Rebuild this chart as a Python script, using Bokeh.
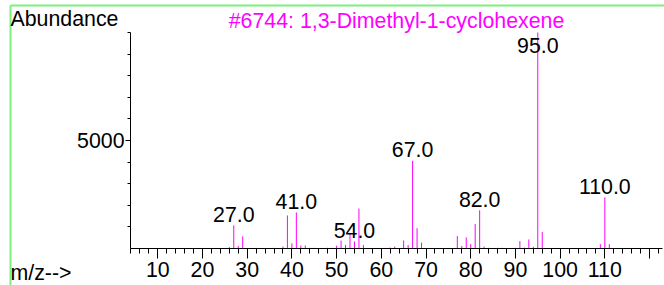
from bokeh.plotting import figure
from bokeh.models import Range1d, FixedTicker, ColumnDataSource
from bokeh.core.properties import value
from bokeh.embed import file_html
from bokeh.resources import INLINE

# ---- data ----
MZ = [26, 27, 28, 29, 32, 36, 38, 39, 40, 41, 42, 43, 44, 45, 48, 49, 50, 51, 52, 53,
      54, 55, 56, 62, 63, 65, 66, 67, 68, 69, 77, 78, 79, 80, 81, 82, 83, 84, 86, 87,
      90, 91, 92, 93, 94, 95, 96, 109, 110, 111]
ABUNDANCE = [70, 1070, 120, 560, 30, 30, 90, 1530, 240, 1670, 140, 140, 30, 30, 30, 30, 130, 365, 165, 680,
             325, 1850, 165, 40, 90, 370, 160, 4060, 940, 275, 575, 120, 515, 200, 1130, 1770, 90, 30, 30, 30,
             30, 345, 40, 420, 80, 9999, 760, 200, 2365, 200]
LABELED_PEAKS = [27, 41, 54, 67, 82, 95, 110]

TITLE = "#6744: 1,3-Dimethyl-1-cyclohexene"
Y_TITLE = "Abundance"
X_TITLE = "m/z-->"

X_MAJOR = [10, 20, 30, 40, 50, 60, 70, 80, 90, 100, 110, 120]
X_TICK_LABELS = ["10", "20", "30", "40", "50", "60", "70", "80", "90", "100", "110", ""]
X_MINOR = list(range(4, 124, 2))
Y_MAJOR = [5000]
Y_TICK_LABELS = ["5000"]
Y_MINOR = [1000, 2000, 3000, 4000, 6000, 7000, 8000, 9000, 10000]

# axis extents (data) and where the axes sit on the canvas (pixels)
X_MIN, X_MAX = 3.9, 122.9
Y_MIN, Y_MAX = 0, 10000
W, H = 664, 285
AX_LEFT, AX_RIGHT, AX_TOP, AX_BOTTOM = 130, 662, 32, 248
FRAME_LINE_LEFT, FRAME_LINE_TOP = 10.0, 5.0
TEXT_SHIFT = -7  # baseline correction for text glyphs

FONT = "Liberation Sans"
FS = "16pt"
MAGENTA = "#FF00FF"
GREEN = "#7CF07C"

# map the whole canvas so the axes fall at the right pixels
kx = (AX_RIGHT - AX_LEFT) / (X_MAX - X_MIN)
ky = (AX_BOTTOM - AX_TOP) / (Y_MAX - Y_MIN)
x_lo = X_MIN - AX_LEFT / kx
x_hi = X_MIN + (W - AX_LEFT) / kx
y_hi = Y_MIN + AX_BOTTOM / ky
y_lo = Y_MIN - (H - AX_BOTTOM) / ky

p = figure(width=W, height=H, x_range=Range1d(x_lo, x_hi), y_range=Range1d(y_lo, y_hi),
           output_backend="svg", toolbar_location=None, min_border=0)
p.outline_line_color = None
p.grid.visible = False
p.background_fill_color = "white"
p.border_fill_color = "white"

# green window frame (top and left edges)
gx = x_lo + FRAME_LINE_LEFT / kx
gy = y_hi - FRAME_LINE_TOP / ky
p.segment(x0=[gx, gx], y0=[gy, gy], x1=[x_hi, gx], y1=[gy, y_lo],
          line_color=GREEN, line_width=2)

# bars
src = ColumnDataSource(dict(mz=MZ, ab=ABUNDANCE))
p.segment(x0="mz", y0=0, x1="mz", y1="ab", source=src, line_color=MAGENTA, line_width=1)

# peak labels
cap = Y_MAX * 0.89
lx, ly, lt = [], [], []
for m, a in zip(MZ, ABUNDANCE):
    if m in LABELED_PEAKS:
        lx.append(m)
        ly.append(min(a, cap))
        lt.append(f"{m:.1f}")
lab = ColumnDataSource(dict(x=lx, y=ly, t=lt))
p.text(x="x", y="y", text="t", source=lab, text_align="center", text_baseline="alphabetic",
       y_offset=-4 + TEXT_SHIFT, text_font=value(FONT), text_font_size=FS, text_color="black")

# axes, pinned at the data origin
xa = p.xaxis[0]
xa.fixed_location = Y_MIN
xa.bounds = (X_MIN, X_MAX)
xa.ticker = FixedTicker(ticks=X_MAJOR, minor_ticks=X_MINOR)
xa.major_label_overrides = {t: s for t, s in zip(X_MAJOR, X_TICK_LABELS)}
xa.major_tick_out = 10
xa.major_tick_in = 0
xa.minor_tick_out = 5
xa.minor_tick_in = 0
xa.major_label_standoff = 3
xa.major_label_text_font = FONT
xa.major_label_text_font_size = FS
xa.major_label_text_color = "black"
xa.axis_line_color = "black"
xa.major_tick_line_color = "black"
xa.minor_tick_line_color = "black"

ya = p.yaxis[0]
ya.fixed_location = X_MIN
ya.bounds = (Y_MIN, Y_MAX)
ya.ticker = FixedTicker(ticks=Y_MAJOR, minor_ticks=Y_MINOR)
ya.major_label_overrides = {t: s for t, s in zip(Y_MAJOR, Y_TICK_LABELS)}
ya.major_tick_out = 5
ya.major_tick_in = 0
ya.minor_tick_out = 3
ya.minor_tick_in = 0
ya.major_label_standoff = 1
ya.major_label_text_font = FONT
ya.major_label_text_font_size = FS
ya.major_label_text_color = "black"
ya.axis_line_color = "black"
ya.major_tick_line_color = "black"
ya.minor_tick_line_color = "black"

# texts around the axes
p.text(x=[X_MIN], y=[Y_MAX], text=[Y_TITLE], x_offset=-120, y_offset=-7 + TEXT_SHIFT,
       text_align="left", text_baseline="alphabetic",
       text_font=value(FONT), text_font_size=FS, text_color="black")
p.text(x=[(X_MIN + X_MAX) / 2], y=[Y_MAX], text=[TITLE], y_offset=-5 + TEXT_SHIFT,
       text_align="center", text_baseline="alphabetic",
       text_font=value(FONT), text_font_size=FS, text_color=MAGENTA)
p.text(x=[X_MIN], y=[Y_MIN], text=[X_TITLE], x_offset=-120, y_offset=31 + TEXT_SHIFT,
       text_align="left", text_baseline="alphabetic",
       text_font=value(FONT), text_font_size=FS, text_color="black")

open("out.html", "w").write(file_html(p, INLINE))
